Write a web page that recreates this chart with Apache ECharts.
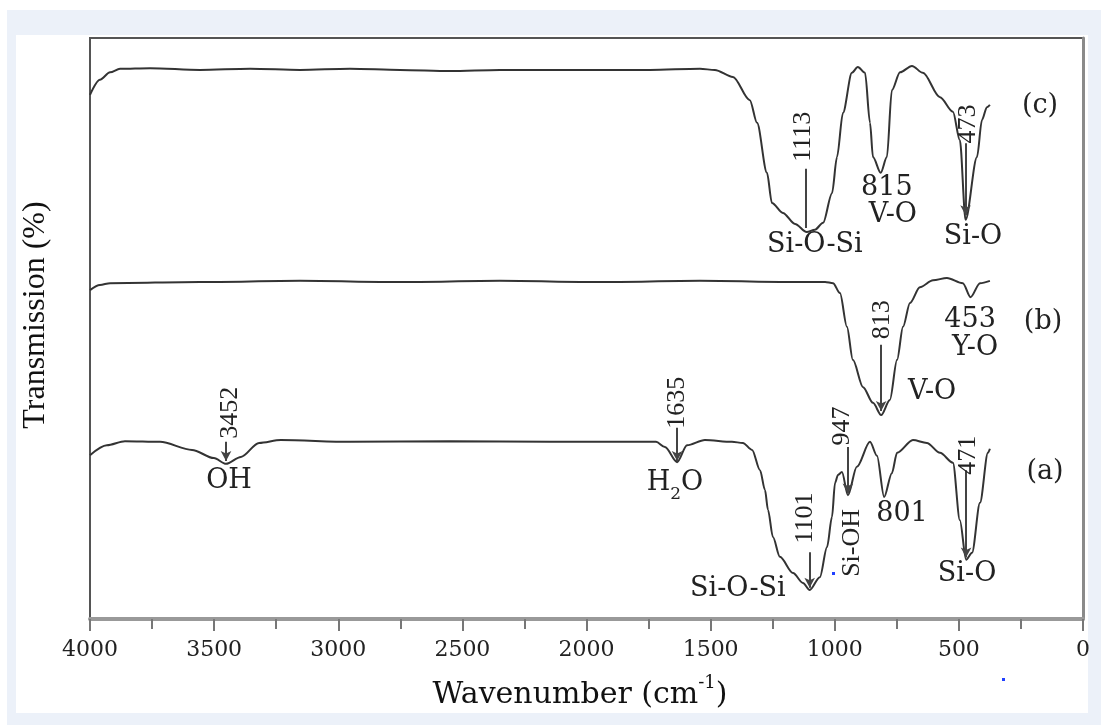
<!DOCTYPE html>
<html>
<head>
<meta charset="utf-8">
<script src="https://cdn.jsdelivr.net/npm/echarts@6/dist/echarts.min.js"></script>
<style>
html,body{margin:0;padding:0;background:#fff;}
#main{width:1101px;height:725px;}
</style>
</head>
<body>
<div id="main"></div>
<script>
// spectrum (a)
var wnA = [4000,3932,3859,3718,3589,3501,3452,3392,3319,3231,2953,2550,2147,1785,1720,1684,1635,1595,1523,1414,1370,1333,1301,1281,1269,1249,1221,1168,1128,1101,1060,1031,1011,999,987,971,947,911,858,830,801,770,749,685,629,576,524,496,471,447,415,383,375];
var tA = [28.2,29.9,30.6,30.5,29.1,27.7,26.7,27.9,30.3,30.8,30.5,30.6,30.5,30.5,30.5,29.6,27.0,29.9,30.8,30.5,30.3,29.1,25.6,22.2,18.8,14.1,10.7,7.9,6.2,5.0,7.2,12.4,17.6,23.4,24.8,25.3,21.3,26.2,30.5,28.1,21.0,25.1,28.6,30.8,30.3,28.6,26.9,17.0,10.2,11.4,20.0,28.6,29.3];
// spectrum (b)
var wnB = [4000,3960,3919,3557,3154,2751,2349,1946,1543,1140,1039,1007,979,951,927,886,846,813,778,749,725,697,657,604,548,484,453,415,375];
var tB = [56.6,57.5,57.8,58.0,58.2,58.0,58.2,58.0,58.2,58.0,58.0,57.8,56.1,50.3,44.6,39.9,37.2,35.1,37.7,44.6,50.3,54.4,57.1,58.3,58.7,57.8,55.4,57.8,58.2];
// spectrum (c)
var wnC = [4000,3960,3919,3879,3758,3557,3355,3154,2953,2751,2550,2349,2147,1946,1744,1543,1483,1410,1342,1313,1273,1253,1209,1160,1113,1080,1047,1011,991,967,931,907,878,858,846,815,790,770,737,689,645,576,524,496,473,427,407,387,375];
var tC = [90.2,92.8,94.1,94.7,94.8,94.5,94.7,94.5,94.7,94.5,94.3,94.5,94.5,94.5,94.5,94.7,94.5,93.3,89.3,85.4,76.8,71.6,69.9,68.0,66.6,67.0,68.2,73.3,79.5,87.1,94.0,95.0,94.0,85.4,79.5,76.8,79.5,91.0,94.1,95.2,94.0,89.8,87.3,82.4,68.7,79.5,85.9,88.1,88.5];

var xTicks = [0,500,1000,1500,2000,2500,3000,3500,4000];

// peak labels: [wavenumber, T, text, rotated]
var peakLabels = [
	[1128,83.0,'1113',1],[1080,64.4,'Si-O-Si',0],[790,74.2,'815',0],[766,69.5,'V-O',0],
	[463,85.2,'473',1],[443,65.7,'Si-O',0],[173,88.3,'(c)',0],
	[808,51.5,'813',1],[608,39.1,'V-O',0],[455,51.5,'453',0],[435,46.6,'Y-O',0],[161,51.1,'(b)',0],
	[3436,35.5,'3452',1],[3440,23.8,'OH',0],[1636,37.2,'1635',1],
	[1120,17.4,'1101',1],[1390,5.2,'Si-O-Si',0],[971,33.2,'947',1],[931,13.1,'Si-OH',1],
	[729,18.1,'801',0],[463,28.2,'471',1],[467,7.7,'Si-O',0],[153,25.3,'(a)',0]
];
// pointer lines: [wavenumber, from T, to T, arrow head]
var pointers = [
	[1116,77.5,67.3,0],[473,81.9,69.5,1],[813,47.2,35.8,1],
	[3452,30.5,27.2,1],[1635,32.9,27.2,1],[1101,11.5,5.4,1],[947,29.6,21.6,1],[471,25.6,10.6,1]
];

function pairs(x, y){
	var r = [];
	for (var i = 0; i < x.length; i++) r.push([x[i], y[i]]);
	return r;
}

var lineStyle = {color:'#333', width:2};
function spec(name, x, y){
	return {
		name:name, type:'line', data:pairs(x, y), symbol:'none',
		smooth:0.3, smoothMonotone:'x',
		lineStyle:lineStyle, silent:true, z:3
	};
}

var series = [spec('a', wnA, tA), spec('b', wnB, tB), spec('c', wnC, tC)];
var mlData = [];
for (var i = 0; i < pointers.length; i++){
	var p = pointers[i];
	mlData.push([
		{coord:[p[0], p[1]], symbol:'none'},
		{coord:[p[0], p[2]], symbol:p[3] ? 'arrow' : 'none'}
	]);
}
series[0].markLine = {
	silent:true, animation:false, symbolSize:[8,10],
	label:{show:false}, lineStyle:{color:'#444', width:2, type:'solid'},
	emphasis:{disabled:true}, data:mlData
};

var myChart = echarts.init(document.getElementById('main'));
var option = {
	backgroundColor:'#ffffff',
	animation:false,
	grid:{left:90, right:18, top:38, bottom:106, show:true, borderColor:'#555', borderWidth:2, backgroundColor:'#fff'},
	xAxis:{
		type:'value', min:0, max:4000, interval:500, inverse:true,
		axisLine:{show:true, lineStyle:{color:'#999', width:4}},
		axisTick:{show:true, length:12, lineStyle:{color:'#777', width:2}},
		minorTick:{show:true, splitNumber:2, length:10, lineStyle:{color:'#777', width:2}},
		splitLine:{show:false},
		axisLabel:{fontFamily:'DejaVu Serif', fontSize:22, color:'#222', margin:20,
			formatter:function(v){ return xTicks.indexOf(v) >= 0 ? String(v) : ''; }}
	},
	yAxis:{
		type:'value', min:0, max:100,
		axisLine:{show:true, lineStyle:{color:'#8a8a8a', width:3}},
		axisTick:{show:false}, axisLabel:{show:false}, splitLine:{show:false}
	},
	series:series
};
myChart.setOption(option);

var g = [
	{type:'rect', shape:{x:7, y:10, width:1094, height:715}, style:{fill:'#ecf1f9'}, z:-20, silent:true},
	{type:'rect', shape:{x:16, y:35, width:1072, height:678}, style:{fill:'#ffffff'}, z:-19, silent:true},
	{type:'text', x:580, y:695, z:10, style:{
		text:'{t|Wavenumber (cm}{s|-1}{t|)}',
		align:'center', verticalAlign:'middle', textAlign:'center', textVerticalAlign:'middle',
		rich:{
			t:{fontFamily:'DejaVu Serif', fontSize:30, lineHeight:42, fill:'#111', color:'#111'},
			s:{fontFamily:'DejaVu Serif', fontSize:18, lineHeight:42, verticalAlign:'top', fill:'#111', color:'#111'}
		}
	}},
	{type:'text', x:36, y:315, rotation:Math.PI/2, z:10, style:{
		text:'Transmission (%)', font:'32px "Liberation Serif"', fill:'#111',
		align:'center', verticalAlign:'middle', textAlign:'center', textVerticalAlign:'middle'
	}},
	{type:'rect', shape:{x:832, y:572, width:3, height:3}, style:{fill:'#2040ff'}, z:10, silent:true},
	{type:'rect', shape:{x:1002, y:678, width:3, height:3}, style:{fill:'#2040ff'}, z:10, silent:true}
];

for (var k = 0; k < peakLabels.length; k++){
	var L = peakLabels[k];
	var px = myChart.convertToPixel({gridIndex:0}, [L[0], L[1]]);
	var rot = L[3] === 1;
	g.push({
		type:'text', x:px[0], y:px[1], rotation:rot ? Math.PI/2 : 0, z:10,
		style:{
			text:L[2],
			font:rot ? '26px "Liberation Serif"' : '27px "DejaVu Serif"',
			fill:'#222',
			align:'center', verticalAlign:'middle', textAlign:'center', textVerticalAlign:'middle'
		}
	});
}
// H2O with subscript
var h2o = myChart.convertToPixel({gridIndex:0}, [1644, 23.4]);
g.push({
	type:'text', x:h2o[0], y:h2o[1], z:10,
	style:{
		text:'{n|H}{s|2}{n|O}',
		align:'center', verticalAlign:'middle', textAlign:'center', textVerticalAlign:'middle',
		rich:{
			n:{fontFamily:'DejaVu Serif', fontSize:27, lineHeight:40, fill:'#222', color:'#222'},
			s:{fontFamily:'DejaVu Serif', fontSize:17, lineHeight:40, verticalAlign:'bottom', fill:'#222', color:'#222'}
		}
	}
});

myChart.setOption({graphic:g});
</script>
</body>
</html>
